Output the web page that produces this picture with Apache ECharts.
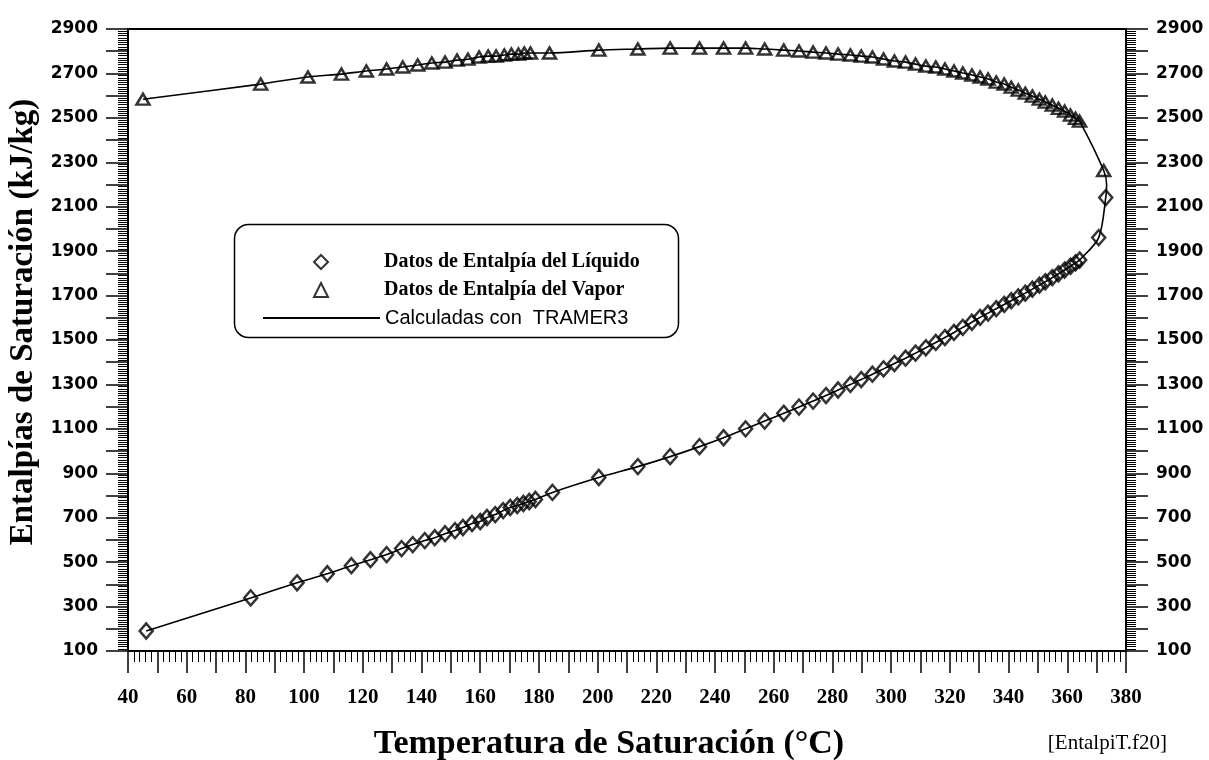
<!DOCTYPE html>
<html>
<head>
<meta charset="utf-8">
<script src="https://cdn.jsdelivr.net/npm/echarts@6/dist/echarts.min.js"></script>
<style>
	html, body { margin: 0; background: #fff; }
	#chart { width: 1209px; height: 760px; }
</style>
</head>
<body>
<div id="chart"></div>
<script>
// Temperatura (°C) y entalpía (kJ/kg) del líquido saturado
var tLiq = [46.2, 81.8, 97.6, 107.9, 116.1, 122.6, 128.1, 133.2, 137.0, 141.1, 144.5, 148.0, 151.4, 154.1, 157.2, 160.0,
	162.3, 165.1, 167.8, 170.2, 172.6, 174.7, 176.7, 178.8, 184.6, 200.4, 213.7, 224.7, 234.7, 242.9, 250.4, 256.9, 263.4,
	268.6, 273.4, 277.8, 281.9, 286.1, 289.8, 293.6, 297.4, 301.1, 304.9, 308.3, 311.8, 315.2, 318.3, 321.4, 324.4, 327.5,
	330.3, 333.0, 335.8, 338.5, 340.9, 343.3, 345.7, 348.1, 350.5, 352.5, 354.9, 357.0, 359.1, 361.1, 362.8, 364.2,
	370.7, 373.1]
var hLiq = [190, 339, 407, 448, 484, 511, 534, 561, 579, 597, 610, 628, 642, 656, 674, 683,
	701, 714, 732, 746, 755, 764, 773, 782, 814, 881, 930, 975, 1020, 1060, 1100, 1135, 1170,
	1198, 1225, 1250, 1275, 1300, 1322, 1346, 1370, 1394, 1418, 1441, 1465, 1489, 1511, 1534, 1557, 1580,
	1602, 1621, 1641, 1660, 1677, 1694, 1711, 1729, 1747, 1762, 1781, 1798, 1815, 1832, 1847, 1860,
	1961, 2141]

// Temperatura (°C) y entalpía (kJ/kg) del vapor saturado
var tVap = [45.1, 85.2, 101.3, 112.7, 121.2, 128.1, 133.6, 138.7, 143.5, 148.0, 152.1, 155.8, 159.6, 162.7, 165.4, 168.2,
	170.6, 173.0, 175.0, 177.1, 183.6, 200.4, 213.7, 224.7, 234.7, 242.9, 250.4, 256.9, 263.4, 268.6, 273.4, 277.8, 281.9,
	286.1, 289.8, 293.6, 297.4, 301.1, 304.9, 308.3, 311.8, 315.2, 318.3, 321.4, 324.4, 327.5, 330.3, 333.0, 335.8, 338.5,
	340.9, 343.3, 345.7, 348.1, 350.5, 352.5, 354.9, 357.0, 359.1, 361.1, 362.8, 364.2, 372.4]
var hVap = [2584, 2652, 2684, 2697, 2711, 2720, 2729, 2738, 2747, 2751, 2760, 2764, 2774, 2778, 2778, 2783,
	2787, 2787, 2792, 2792, 2792, 2805, 2810, 2814, 2814, 2814, 2814, 2810, 2805, 2801, 2796, 2792, 2787,
	2783, 2778, 2774, 2765, 2756, 2751, 2742, 2733, 2729, 2720, 2711, 2702, 2693, 2684, 2675, 2661, 2652,
	2638, 2625, 2611, 2598, 2584, 2571, 2557, 2543, 2530, 2512, 2498, 2485, 2263]

// punto donde la curva calculada une líquido y vapor
var puntoCritico = [373.4, 2200]

var nomLiq = 'Datos de Entalpía del Líquido'
var nomVap = 'Datos de Entalpía del Vapor'
var nomCalc = 'Calculadas con  TRAMER3'

function pares(t, h) {
	return t.map(function (v, i) { return [v, h[i]] })
}

var liq = pares(tLiq, hLiq)
var vap = pares(tVap, hVap)
var curva = liq.concat([puntoCritico], vap.slice().reverse())

var chart = echarts.init(document.getElementById('chart'))

var tickY = {
	show: true, inside: false, length: 22,
	lineStyle: { color: '#000', width: 1.5 }
}
var minorY = {
	show: true, splitNumber: 10, length: 10,
	lineStyle: { color: '#000', width: 1 }
}
var labelY = {
	margin: 30,
	color: '#000',
	fontFamily: 'DejaVu Sans',
	fontWeight: 'bold',
	fontSize: 17,
	formatter: function (v) { return (v - 100) % 200 === 0 ? String(v) : '' }
}
var textoLeyenda = {
	fontFamily: 'Liberation Serif', fontWeight: 'bold', fontSize: 20, lineHeight: 20, color: '#000',
	padding: [0, 0, 0, 51]
}
var marcador = { color: 'rgba(255,255,255,0)', borderColor: '#000', borderWidth: 2.5 }

var option = {
	animation: false,
	backgroundColor: '#fff',
	grid: { left: 128, right: 83, top: 29, bottom: 109, outerBoundsMode: 'none', containLabel: false },
	// dos leyendas: los símbolos y la línea tienen anchos distintos
	legend: [{
		orient: 'vertical',
		left: 313,
		top: 252,
		padding: 0,
		itemWidth: 14,
		itemHeight: 14,
		itemGap: 8,
		selectedMode: false,
		textStyle: textoLeyenda,
		data: [{ name: nomLiq, icon: 'diamond' }, { name: nomVap, icon: 'triangle' }]
	}, {
		orient: 'vertical',
		left: 262,
		top: 308,
		padding: 0,
		itemWidth: 117,
		itemHeight: 14,
		selectedMode: false,
		textStyle: { fontFamily: 'Liberation Sans', fontSize: 20, lineHeight: 20, color: '#000' },
		data: [{ name: nomCalc, itemStyle: { color: 'rgba(0,0,0,0)', borderWidth: 0 } }]
	}],
	xAxis: [{
		type: 'value',
		min: 40,
		max: 380,
		interval: 10,
		name: 'Temperatura de Saturación (°C)',
		nameLocation: 'middle',
		nameGap: 76,
		nameTextStyle: {
			fontFamily: 'Liberation Serif', fontWeight: 'bold', fontSize: 34, color: '#000',
			padding: [0, 36, 0, 0]
		},
		axisLine: { lineStyle: { color: '#000', width: 2 } },
		axisTick: { show: true, length: 22, lineStyle: { color: '#000', width: 1.5 } },
		minorTick: { show: true, splitNumber: 5, length: 11, lineStyle: { color: '#000', width: 1 } },
		splitLine: { show: false },
		axisLabel: {
			margin: 36,
			color: '#000',
			fontFamily: 'Liberation Serif',
			fontWeight: 'bold',
			fontSize: 21,
			formatter: function (v) { return (v - 40) % 20 === 0 ? String(v) : '' }
		}
	}, {
		type: 'value',
		min: 40,
		max: 380,
		position: 'top',
		axisLine: { onZero: false, lineStyle: { color: '#000', width: 2 } },
		axisTick: { show: false },
		axisLabel: { show: false },
		splitLine: { show: false }
	}],
	yAxis: [{
		type: 'value',
		min: 100,
		max: 2900,
		interval: 100,
		name: 'Entalpías de Saturación (kJ/kg)',
		nameLocation: 'middle',
		nameGap: 81,
		nameTextStyle: {
			fontFamily: 'Liberation Serif', fontWeight: 'bold', fontSize: 33, color: '#000',
			padding: [0, 0, 0, 36]
		},
		axisLine: { show: true, lineStyle: { color: '#000', width: 2 } },
		axisTick: tickY,
		minorTick: minorY,
		splitLine: { show: false },
		axisLabel: labelY
	}, {
		type: 'value',
		min: 100,
		max: 2900,
		interval: 100,
		position: 'right',
		axisLine: { show: true, lineStyle: { color: '#000', width: 2 } },
		axisTick: tickY,
		minorTick: minorY,
		splitLine: { show: false },
		axisLabel: labelY
	}],
	graphic: [{
		// marco redondeado de la leyenda
		type: 'rect',
		left: 232,
		top: 222,
		shape: { width: 444, height: 113, r: 14 },
		style: { fill: 'none', stroke: '#000', lineWidth: 1.5 },
		z: 0
	}, {
		type: 'text',
		right: 42,
		top: 733,
		style: {
			text: '[EntalpiT.f20]',
			fill: '#000',
			font: '21px "Liberation Serif"'
		}
	}],
	series: [{
		name: nomCalc,
		type: 'line',
		data: curva,
		smooth: 0.3,
		symbol: 'none',
		lineStyle: { color: '#000', width: 1.6 },
		itemStyle: { color: '#000' },
		z: 1
	}, {
		name: nomLiq,
		type: 'scatter',
		data: liq,
		symbol: 'diamond',
		symbolSize: [13, 15],
		itemStyle: marcador,
		z: 2
	}, {
		name: nomVap,
		type: 'scatter',
		data: vap,
		symbol: 'triangle',
		symbolSize: [13, 11],
		itemStyle: marcador,
		z: 2
	}]
}

chart.setOption(option)
</script>
</body>
</html>
